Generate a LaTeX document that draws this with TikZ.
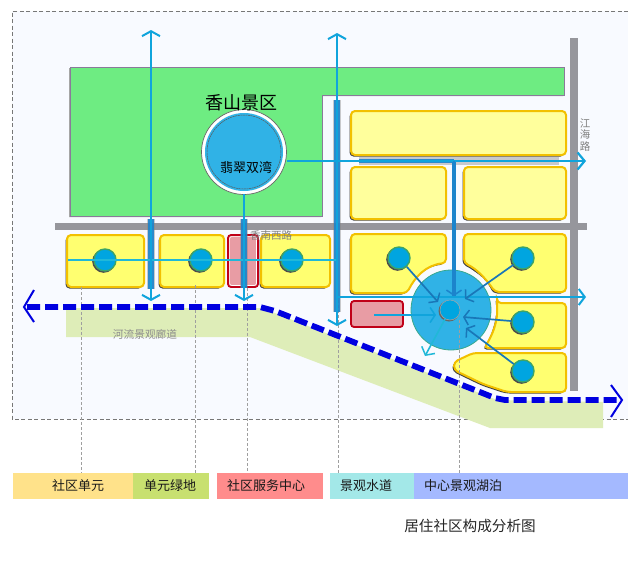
\documentclass[tikz,border=0pt]{standalone}
\usepackage{fontspec}
\newfontfamily\cjk{Noto Sans CJK SC}
\usetikzlibrary{arrows.meta}
\definecolor{bgc}{HTML}{F8FAFF}
\definecolor{framec}{HTML}{777777}
\definecolor{riverc}{HTML}{DEEDB8}
\definecolor{parkc}{HTML}{6EEC82}
\definecolor{parkedge}{HTML}{8A7A9A}
\definecolor{roadc}{HTML}{96969C}
\definecolor{blockc}{HTML}{FFFF70}
\definecolor{blockp}{HTML}{FFFF9C}
\definecolor{blocke}{HTML}{F2C000}
\definecolor{pinkc}{HTML}{E89CA4}
\definecolor{pinke}{HTML}{C00018}
\definecolor{wat}{HTML}{10A4DC}
\definecolor{watd}{HTML}{1C84CC}
\definecolor{cyanl}{HTML}{20B8D8}
\definecolor{lakec}{HTML}{30B2E6}
\definecolor{dotc}{HTML}{00A5E0}
\definecolor{dote}{HTML}{3CA468}
\definecolor{riverl}{HTML}{0000E0}
\tikzset{
  x=1pt,y=-1pt,
  leader/.style={draw=gray!75,line width=.7pt,dash pattern=on 3pt off 2pt},
  roadst/.style={fill=roadc},
  blockst/.style={draw=blocke,line width=2pt,fill=blockc,rounded corners=4pt},
  paleblock/.style={blockst,fill=blockp},
  shadowst/.style={fill=black!75,rounded corners=4pt},
  servicest/.style={draw=pinke,line width=1.8pt,fill=pinkc,rounded corners=3pt},
  dotst/.style={circle,minimum size=22pt,inner sep=0pt,fill=dotc,draw=dote,line width=1.4pt},
  thin water/.style={draw=wat,line width=1.8pt},
  thick water/.style={draw=watd,line width=5.5pt,opacity=.9},
  channel edge/.style={draw=gray,line width=8pt,opacity=.4},
  upbarb/.style={-{Straight Barb[length=5pt,width=18pt,line width=2pt]}},
  inbarb/.style={draw=watd!90!black,line width=1.7pt,-{Straight Barb[length=5pt,width=15pt,line width=1.5pt]}},
  riverarrow/.style={draw=riverl,line width=2pt},
  legendbox/.style={inner sep=0pt,anchor=north west,minimum height=25.5pt},
  legendtext/.style={font=\cjk\fontsize{13}{13}\selectfont,text=black!90},
}
\begin{document}
\begin{tikzpicture}
\useasboundingbox (0,0) rectangle (628,560);
% frame
\fill[white] (0,0) rectangle (628,560);
\fill[bgc] (12,11) rectangle (628,419);
\draw[framec,line width=.7pt,dash pattern=on 4pt off 2.5pt] (628,11) -- (12,11) -- (12,419) -- (628,419);
% river corridor
\fill[riverc] (66,308) -- (262,308) -- (497,400) -- (603,402) -- (603,428) -- (490,428) -- (250,337) -- (66,337) -- cycle;
% park
\fill[black!35] (69,68) -- (69,217) -- (321,217) -- (321,96) -- (563,96) -- (563,68) -- cycle;
\draw[parkedge,line width=.8pt,fill=parkc] (70,67) -- (564,67) -- (564,95) -- (322,95) -- (322,216) -- (70,216) -- cycle;
% roads
\fill[roadst] (55,223) rectangle (587,230);
\fill[roadst] (570,38) rectangle (578,391);
% blocks
\fill[shadowst] (349.5,112.5) rectangle (564.5,156.5);
\draw[paleblock] (351,111) rectangle (566,155);
\fill[shadowst] (349.5,168.5) rectangle (444.5,220.5);
\draw[paleblock] (351,167) rectangle (446,219);
\fill[shadowst] (462.5,168.5) rectangle (564.5,220.5);
\draw[paleblock] (464,167) rectangle (566,219);
\foreach \xa/\xb in {67/144,160/224,261/330}{
  \fill[shadowst] (\xa-1.5,236.5) rectangle (\xb-1.5,288.5);
  \draw[blockst] (\xa,235) rectangle (\xb,287);
}
\fill[shadowst] (349.5,235.5) -- (444.5,235.5) -- (444.5,264.5) .. controls (424.5,266.5) and (413.5,278.5) .. (405.5,294.5) -- (349.5,294.5) -- cycle;
\draw[blockst] (351,234) -- (446,234) -- (446,263) .. controls (426,265) and (415,277) .. (407,293) -- (351,293) -- cycle;
\fill[shadowst] (462.5,235.5) -- (564.5,235.5) -- (564.5,293.5) -- (493.5,293.5) .. controls (484.5,280.5) and (475.5,270.5) .. (462.5,264.5) -- cycle;
\draw[blockst] (464,234) -- (566,234) -- (566,292) -- (495,292) .. controls (486,279) and (477,269) .. (464,263) -- cycle;
\fill[shadowst] (495.5,304.5) -- (564.5,304.5) -- (564.5,349.5) -- (482.5,349.5) .. controls (490.5,337.5) and (496.5,323.5) .. (495.5,304.5) -- cycle;
\draw[blockst] (497,303) -- (566,303) -- (566,348) -- (484,348) .. controls (492,336) and (498,322) .. (497,303) -- cycle;
\fill[shadowst] (471.5,354.5) -- (564.5,354.5) -- (564.5,393.5) -- (505.5,393.5) -- (481.5,385.5) -- (452.5,371.5) -- (452.5,363.5) -- cycle;
\draw[blockst] (473,353) -- (566,353) -- (566,392) -- (507,392) -- (483,384) -- (454,370) -- (454,362) -- cycle;
% service centres
\draw[servicest] (228,235) rectangle (258,287);
\draw[white,line width=.7pt,rounded corners=2pt] (229.6,236.6) rectangle (256.4,285.4);
\draw[servicest] (351,301) rectangle (403,327);
% leaders behind lake
\draw[leader] (81,287) -- (81,473);
\draw[leader] (195,285) -- (195,473);
\draw[leader] (247,288) -- (247,473);
\draw[leader] (338,300) -- (338,473);
% lakes
\node[circle,minimum size=90pt,inner sep=0pt,fill=bgc] (lakering) at (451,310) {};
\node[circle,minimum size=80pt,inner sep=0pt,fill=lakec,draw=dote!70!lakec,line width=.8pt] (lake) at (451,310) {};
\draw[leader] (459,320) -- (459,473);
\node[circle,minimum size=85pt,inner sep=0pt,fill=white,draw=black!60,line width=.7pt] (topring) at (244,152) {};
\node[circle,minimum size=78pt,inner sep=0pt,fill=lakec] (toplake) at (244,152) {};
\node[circle,minimum size=74pt,inner sep=0pt,draw=black!65,line width=.5pt,dash pattern=on 2pt off .6pt] (topdash) at (244,152) {};
% named end points
\coordinate (n1) at (151,30);
\coordinate (s1) at (151,301);
\coordinate (t1) at (151,219);
\coordinate (b1) at (151,289);
\coordinate (s2) at (244,301);
\coordinate (t2) at (244,219);
\coordinate (b2) at (244,288);
\coordinate (n3) at (337,33);
\coordinate (s3) at (337,326);
\coordinate (t3) at (337,100);
\coordinate (b3) at (337,312);
\coordinate (e1) at (586,161);
\coordinate (m1) at (359,161);
\coordinate (m2) at (454,161);
\coordinate (m3) at (559,161);
\coordinate (j1) at (337,297);
\coordinate (e2) at (586,297);
\coordinate (w1) at (68,260);
\coordinate (w2) at (337,260);
\coordinate (c1) at (438,302);
\coordinate (c2) at (465,299);
\coordinate (c3) at (463,317);
\coordinate (c4) at (466,328);
\coordinate (c5) at (454,296);
\coordinate (c6) at (436,315);
\coordinate (c7) at (425,356);
\coordinate (sv) at (374,315);
% channels
\draw[channel edge] (t1) -- (b1);
\draw[channel edge] (t2) -- (b2);
\draw[channel edge] (t3) -- (b3);
\draw[channel edge] (m1) -- (m3);
\draw[thick water] (t1) -- (b1);
\draw[thick water] (t2) -- (b2);
\draw[thick water] (t3) -- (b3);
\draw[thick water,line width=4.5pt] (m1) -- (m2);
\draw[thick water,line width=4.5pt,opacity=1] (m2) -- (c5);
% unit dots
\foreach \n/\x/\y in {u1/105/260,u2/201/260,u3/292/260,u4/399/258,u5/523/258,u6/523/322,u7/523/371}{
  \fill[black!70] (\x-1.3,\y+1.3) circle (11.5pt);
  \node[dotst] (\n) at (\x,\y) {};
}
% thin water lines
\draw[cyanl,line width=1.5pt] (w1) -- (w2);
\draw[thin water,upbarb] (b1) -- (n1);
\draw[thin water,upbarb] (t1) -- (s1);
\draw[thin water,upbarb] (toplake) ++(0,42) -- (s2);
\draw[thin water,upbarb] (b3) -- (n3);
\draw[thin water,upbarb] (t3) -- (s3);
\draw[thin water,-{Straight Barb[length=7pt,width=17pt,line width=2.2pt]}] (topring.east |- e1) -- (e1);
\draw[thin water,-{Straight Barb[length=6pt,width=16pt,line width=2pt]}] (j1) -- (e2);
% small central basin
\fill[black!60] (449,311) circle (10.5pt);
\node[circle,minimum size=20pt,inner sep=0pt,fill=dotc,draw=black!35,line width=.5pt] (hub) at (450,310) {};
% arrows into the hub
\draw[inbarb] (u4) -- (c1);
\draw[inbarb] (u5) -- (c2);
\draw[inbarb] (u6) -- (c3);
\draw[inbarb] (u7) -- (c4);
\draw[inbarb,draw=wat] (sv) -- (c6);
\draw[inbarb,draw=watd] (m2) -- (c5);
\draw[cyanl,line width=1.6pt,-{Straight Barb[length=6pt,width=15pt,line width=1.5pt]}] (hub) -- (c7);
% river line
\coordinate (rw) at (27,307);
\coordinate (re) at (620,400);
\draw[riverl,line width=5.8pt,dash pattern=on 13pt off 5pt] (rw) -- (260,307) -- (275,311) -- (495,398) -- (505,400) -- (re);
\coordinate (lt) at (24,307);
\coordinate (rt) at (622,400);
\draw[riverarrow] (34,290) -- (lt) -- (34,322);
\draw[riverarrow] (611,385) -- (rt) -- (611,417);
% texts
\node[font=\cjk\fontsize{18}{18}\selectfont,text=black] (tparc) at (241,103) {香山景区};
\node[font=\cjk\fontsize{13}{13}\selectfont,text=black] (tcui) at (246,167) {翡翠双湾};
\node[font=\cjk\fontsize{10.5}{10.5}\selectfont,text=gray] (troad) at (271,235) {香南西路};
\node[font=\cjk\fontsize{10.5}{11.5}\selectfont,text=gray,align=center] (tjh) at (585,135) {江\\海\\路};
\node[font=\cjk\fontsize{10.7}{10.7}\selectfont,text=black!45] (triver) at (145,334) {河流景观廊道};
% legend
\node[legendbox,minimum width=120pt,fill={rgb,255:red,255;green,226;blue,138}] (l1) at (13,473) {};
\node[legendbox,minimum width=76pt,fill={rgb,255:red,200;green,224;blue,112}] (l2) at (133,473) {};
\node[legendbox,minimum width=106pt,fill={rgb,255:red,255;green,140;blue,140}] (l3) at (217,473) {};
\node[legendbox,minimum width=84pt,fill={rgb,255:red,163;green,232;blue,232}] (l4) at (329.5,473) {};
\node[legendbox,minimum width=214.5pt,fill={rgb,255:red,164;green,185;blue,255}] (l5) at (413.5,473) {};
\node[legendtext] at (78,486) {社区单元};
\node[legendtext] at (170,486) {单元绿地};
\node[legendtext] at (266,486) {社区服务中心};
\node[legendtext] at (366,486) {景观水道};
\node[legendtext] at (463,486) {中心景观湖泊};
\node[font=\cjk\fontsize{14.6}{14.6}\selectfont,text=black!85] (cap) at (470,526) {居住社区构成分析图};
\end{tikzpicture}
\end{document}
